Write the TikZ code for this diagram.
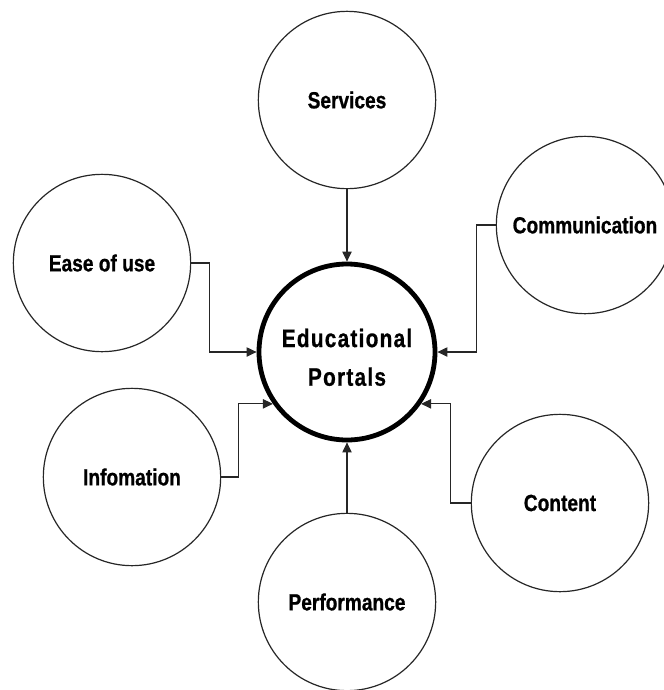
\documentclass[tikz,border=0pt]{standalone}
\usepackage{fontspec}
\setmainfont{Liberation Sans}
\newfontfamily\topicfont{Liberation Sans}[FakeStretch=0.82, BoldFeatures={FakeBold=0.8}]
\newfontfamily\portalfont{Liberation Sans}[FakeStretch=0.82, LetterSpace=5, BoldFeatures={FakeBold=0.8}]
\usepackage{tikz}
\usetikzlibrary{arrows.meta, positioning}

\begin{document}
\begin{tikzpicture}[
    x=0.75pt, y=-0.75pt,
    topic/.style={draw=black!85, line width=0.9pt, circle, minimum size=133pt, inner sep=0pt, align=center, font=\topicfont\bfseries\fontsize{17.5}{21}\selectfont},
    portal/.style={draw, line width=3.6pt, circle, minimum size=132pt, inner sep=0pt},
    portal label/.style={align=center, yshift=-4pt, font=\portalfont\bfseries\fontsize{19}{29}\selectfont},
    arrow/.style={-{Triangle[length=7.5pt, width=7pt]}, line width=0.8pt, draw=black!85}
]
    \clip (0,0) rectangle (664,690);
    \useasboundingbox (0,0) rectangle (664,690);

    \node[portal, label={[portal label]center:{Educational\\Portals}}] (portal) at (347,352) {};
    \node[topic] (services) at (347,100) {Services};
    \node[topic] (communication) at (585,225) {Communication};
    \node[topic] (ease) at (102,263) {Ease of use};
    \node[topic] (information) at (132,477) {Infomation};
    \node[topic] (content) at (560,503) {Content};
    \node[topic] (performance) at (347,602) {Performance};

    \draw[arrow] (services) -- (portal);
    \draw[arrow] (performance) -- (portal);
    \draw[arrow] (ease.east) -- ++(18,0) |- (portal.west);
    \draw[arrow] (communication.west) -- ++(-19,0) |- (portal.east);
    \draw[arrow] (information.east) -- ++(17,0) |- (portal.215);
    \draw[arrow] (content.west) -- ++(-20,0) |- (portal.325);
\end{tikzpicture}
\end{document}
